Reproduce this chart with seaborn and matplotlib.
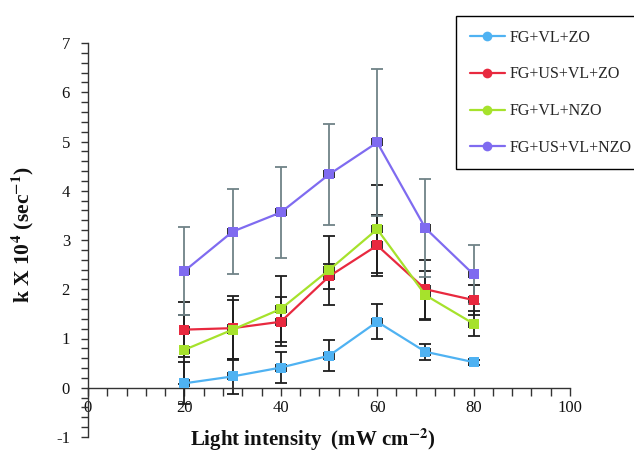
import numpy as np
import pandas as pd
import seaborn as sns
import matplotlib
matplotlib.use("Agg")
import matplotlib.pyplot as plt
from matplotlib.ticker import MultipleLocator
from matplotlib.lines import Line2D

# ---- data ----
intensity = [20, 30, 40, 50, 60, 70, 80]
series_names = ["FG+VL+ZO", "FG+US+VL+ZO", "FG+VL+NZO", "FG+US+VL+NZO"]
fg_vl_zo = [0.09, 0.23, 0.41, 0.65, 1.34, 0.73, 0.52]
fg_vl_zo_err = [0.43, 0.35, 0.32, 0.32, 0.36, 0.16, 0.05]
fg_us_vl_zo = [1.18, 1.21, 1.34, 2.26, 2.89, 2.00, 1.78]
fg_us_vl_zo_err = [0.56, 0.65, 0.50, 0.25, 0.62, 0.60, 0.30]
fg_vl_nzo = [0.77, 1.18, 1.60, 2.39, 3.22, 1.88, 1.30]
fg_vl_nzo_err = [0.70, 0.60, 0.67, 0.70, 0.90, 0.50, 0.25]
fg_us_vl_nzo = [2.37, 3.17, 3.56, 4.33, 4.98, 3.24, 2.30]
fg_us_vl_nzo_err = [0.90, 0.87, 0.92, 1.02, 1.49, 1.00, 0.60]

colors = ["#4FB2F2", "#E8293F", "#A6E22C", "#7F6BF0"]
err_colors = ["#1e1e1e", "#1e1e1e", "#1e1e1e", "#6F8287"]

values = [fg_vl_zo, fg_us_vl_zo, fg_vl_nzo, fg_us_vl_nzo]
errors = [fg_vl_zo_err, fg_us_vl_zo_err, fg_vl_nzo_err, fg_us_vl_nzo_err]

df = pd.DataFrame({
    "x": intensity * 4,
    "y": sum(values, []),
    "series": sum([[n] * len(intensity) for n in series_names], []),
})

sns.set_style("white")
plt.rcParams["font.family"] = ["Liberation Serif", "DejaVu Serif"]
plt.rcParams["mathtext.fontset"] = "stix"
plt.rcParams["axes.unicode_minus"] = False

fig = plt.figure(figsize=(6.34, 4.54), dpi=100)
ax = fig.add_axes([88 / 634, 17 / 454, (570 - 88) / 634, (437 - 43) / 454])

# error bars first (under lines)
for v, e, ec in zip(values, errors, err_colors):
    ax.errorbar(intensity, v, yerr=e, fmt="none", ecolor=ec, elinewidth=1.3,
                capsize=4, capthick=1.3, zorder=2)
    ax.errorbar(intensity, v, xerr=[1.0] * len(v), fmt="none", ecolor="#1e1e1e",
                elinewidth=0, capsize=3, capthick=1.3, zorder=2)

sns.lineplot(data=df, x="x", y="y", hue="series", palette=colors,
             hue_order=series_names, marker="s", markersize=7.5,
             markeredgewidth=0, linewidth=1.6, ax=ax, legend=False, zorder=3)

ax.set_xlim(0, 100)
ax.set_ylim(-1, 7)

# spines
ax.spines["top"].set_visible(False)
ax.spines["right"].set_visible(False)
ax.spines["bottom"].set_position(("data", 0))
for s in ["left", "bottom"]:
    ax.spines[s].set_color("#333333")
    ax.spines[s].set_linewidth(1.0)

ax.xaxis.set_major_locator(MultipleLocator(20))
ax.xaxis.set_minor_locator(MultipleLocator(4))
ax.yaxis.set_major_locator(MultipleLocator(1))
ax.yaxis.set_minor_locator(MultipleLocator(0.2))
ax.tick_params(axis="x", which="both", direction="out", length=6, width=1,
               color="#333333", bottom=True)
ax.tick_params(axis="x", which="major", pad=3, labelsize=12, labelcolor="#111111")
ax.tick_params(axis="y", which="both", direction="out", length=5, width=1,
               color="#333333", left=True)
ax.tick_params(axis="y", which="major", pad=8, labelsize=12, labelcolor="#111111")

ax.set_xlabel("Light intensity  (mW cm$^{\\mathbf{-2}}$)", fontsize=15,
              fontweight="bold", color="#111111")
ax.set_ylabel("k X 10$^{\\mathbf{4}}$ (sec$^{\\mathbf{-1}}$)", fontsize=15.5,
              fontweight="bold", color="#111111")
ax.xaxis.set_label_coords(0.467, 0.026)
ax.yaxis.set_label_coords(-0.108, 0.513)

# legend
handles = [Line2D([0], [0], color=c, marker="o", markersize=7, linewidth=1.6,
                  markeredgewidth=0) for c in colors]
leg = fig.legend(handles, series_names, loc="upper left",
                 bbox_to_anchor=(456 / 634, (454 - 16) / 454),
                 bbox_transform=fig.transFigure, fontsize=11.5,
                 frameon=True, fancybox=False, framealpha=1,
                 edgecolor="black", labelspacing=1.3, handlelength=2.2,
                 handletextpad=0.3, borderpad=0.85, borderaxespad=0)
leg.get_frame().set_linewidth(1.0)

fig.savefig("out.png", dpi=100)
